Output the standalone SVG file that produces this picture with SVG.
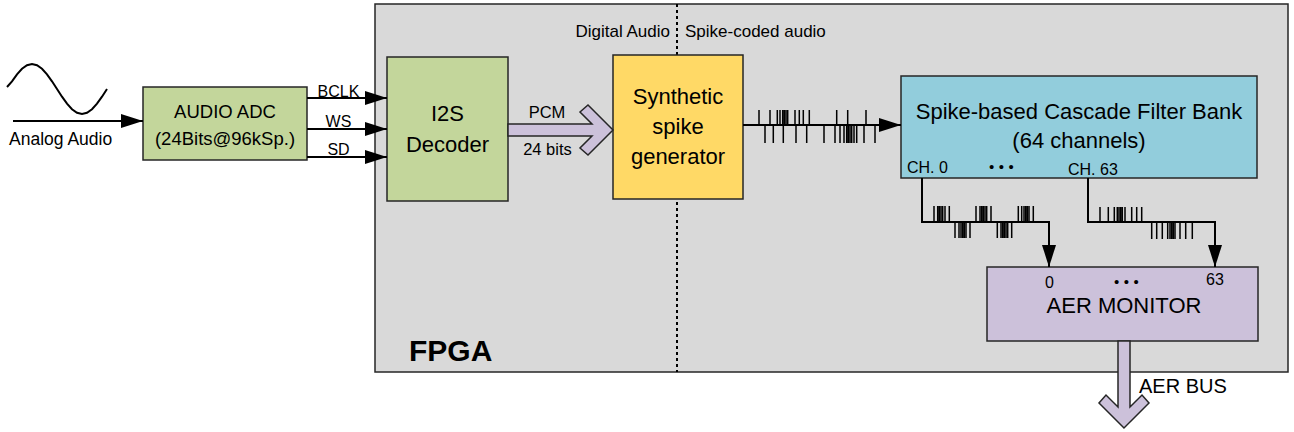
<svg xmlns="http://www.w3.org/2000/svg" width="1294" height="432" viewBox="0 0 1294 432">
  <style>
    text { font-family: "Liberation Sans", Arial, sans-serif; fill: #000; }
    .box { stroke: #262626; stroke-width: 1.5; }
    .wire { fill: none; stroke: #000; stroke-width: 2; }
    .tick { fill: none; stroke: #000; stroke-width: 1.5; }
    .bus { fill: #ccc1da; stroke: #262626; stroke-width: 1.5; stroke-linejoin: miter; }
    .mid { text-anchor: middle; }
  </style>
  <defs>
    <marker id="ah" markerWidth="22" markerHeight="14" refX="22" refY="7" orient="auto" markerUnits="userSpaceOnUse">
      <path d="M0,0 L22,7 L0,14 z" fill="#000"/>
    </marker>
  </defs>

  <rect width="1294" height="432" fill="#fff"/>

  <!-- FPGA enclosure -->
  <g id="fpga">
    <rect class="box" x="375" y="4" width="913" height="368" fill="#d9d9d9"/>
    <line x1="677" y1="4" x2="677" y2="372" stroke="#000" stroke-width="2" stroke-dasharray="3,3"/>
    <text x="670" y="37" font-size="17" text-anchor="end">Digital Audio</text>
    <text x="685" y="37" font-size="17">Spike-coded audio</text>
    <text x="409" y="361" font-size="30" font-weight="bold">FPGA</text>
  </g>

  <!-- analog input -->
  <g id="analog">
    <polyline class="wire" points="7,87 12,81.3 17,74.3 22,68.8 27,65.2 32,64 37,65.2 42,68.8 47,74.3 52,81.3 57,89 62,96.7 67,103.7 72,109.2 77,112.8 82,114 87,112.8 92,109.2 97,103.7 102,96.7 107,89"/>
    <text x="9" y="145" font-size="17.5">Analog Audio</text>
  </g>

  <g id="adc">
    <rect class="box" x="143" y="87" width="164" height="73" fill="#c3d69b"/>
    <text class="mid" x="225" y="118" font-size="18.5">AUDIO ADC</text>
    <text class="mid" x="225" y="145" font-size="18.5">(24Bits@96kSp.)</text>
  </g>

  <g id="i2s">
    <rect class="box" x="387" y="57" width="121" height="144" fill="#c3d69b"/>
    <text class="mid" x="447.5" y="121" font-size="22">I2S</text>
    <text class="mid" x="447.5" y="152" font-size="22">Decoder</text>
  </g>

  <g id="synth">
    <rect class="box" x="613" y="55" width="130" height="144" fill="#ffd966"/>
    <text class="mid" x="678" y="104" font-size="22">Synthetic</text>
    <text class="mid" x="678" y="134" font-size="22">spike</text>
    <text class="mid" x="678" y="164" font-size="22">generator</text>
  </g>

  <g id="cfb">
    <rect class="box" x="901" y="76" width="356" height="102" fill="#92cddc"/>
    <text class="mid" x="1079" y="119" font-size="22">Spike-based Cascade Filter Bank</text>
    <text class="mid" x="1079" y="148" font-size="22">(64 channels)</text>
    <text x="907" y="173" font-size="16">CH. 0</text>
    <text x="989" y="172" font-size="15" letter-spacing="4.5">•••</text>
    <text x="1068" y="175" font-size="16">CH. 63</text>
  </g>

  <g id="aer-monitor">
    <rect class="box" x="987" y="267" width="271" height="74" fill="#ccc1da"/>
    <text x="1045" y="288" font-size="16">0</text>
    <text x="1114" y="287" font-size="15" letter-spacing="4.5">•••</text>
    <text x="1206" y="285" font-size="16">63</text>
    <text class="mid" x="1124" y="313" font-size="22">AER MONITOR</text>
  </g>

  <!-- connectors -->
  <g id="connectors">
    <line class="wire" x1="13" y1="121" x2="143" y2="121" marker-end="url(#ah)"/>

    <line class="wire" x1="307" y1="98" x2="387" y2="98" marker-end="url(#ah)"/>
    <line class="wire" x1="307" y1="129" x2="387" y2="129" marker-end="url(#ah)"/>
    <line class="wire" x1="307" y1="157" x2="387" y2="157" marker-end="url(#ah)"/>
    <text class="mid" x="338.5" y="97" font-size="16">BCLK</text>
    <text class="mid" x="338.5" y="127" font-size="16">WS</text>
    <text class="mid" x="338.5" y="155" font-size="16">SD</text>

    <!-- PCM parallel bus -->
    <polygon class="bus" points="508,124 592,124 580,112 588,105 613,130 588,155 580,148 592,136 508,136"/>
    <text class="mid" x="547" y="118" font-size="16.5">PCM</text>
    <text class="mid" x="547.5" y="155" font-size="16.5">24 bits</text>

    <!-- spike stream into the filter bank -->
    <line class="wire" x1="743" y1="125" x2="901" y2="125" marker-end="url(#ah)"/>
    <path class="tick" d="M759,125V110 M770,125V110 M777.3,125V110 M780,125V110 M782.7,125V110 M784.3,125V110 M786,125V110 M787.7,125V110 M795,125V110 M799.3,125V110 M803.3,125V110 M809.3,125V110 M836.7,125V110 M847.7,125V110 M866,125V110"/>
    <path class="tick" d="M765,125V143 M773.3,125V143 M783.3,125V143 M796,125V143 M806.7,125V143 M824,125V143 M835,125V143 M840,125V143 M844,125V143 M846.7,125V143 M848.3,125V143 M850,125V143 M851.7,125V143 M854,125V143 M856.7,125V143 M864,125V143 M875,125V143"/>

    <!-- channel 0 output -->
    <polyline class="wire" points="922,178 922,222 1049,222 1049,267" marker-end="url(#ah)"/>
    <path class="tick" d="M934,222V206 M937.7,222V206 M939.3,222V206 M941,222V206 M942.7,222V206 M945,222V206 M949.3,222V206 M976,222V206 M980,222V206 M981.7,222V206 M983.3,222V206 M985,222V206 M986.7,222V206 M991,222V206 M1018.3,222V206 M1021.7,222V206 M1024,222V206 M1025.7,222V206 M1027.3,222V206 M1029,222V206 M1033.3,222V206"/>
    <path class="tick" d="M955,222V238 M959,222V238 M961,222V238 M962.7,222V238 M964.3,222V238 M966,222V238 M970,222V238 M997.3,222V238 M1001,222V238 M1002.7,222V238 M1004.3,222V238 M1006,222V238 M1007.7,222V238 M1011.7,222V238"/>

    <!-- channel 63 output -->
    <polyline class="wire" points="1088,178 1088,222 1215,222 1215,267" marker-end="url(#ah)"/>
    <path class="tick" d="M1100,222V207 M1108.3,222V207 M1114.3,222V207 M1117.3,222V207 M1119,222V207 M1120.7,222V207 M1122.3,222V207 M1125,222V207 M1131.7,222V207 M1136.7,222V207 M1141.7,222V207"/>
    <path class="tick" d="M1151.7,222V239 M1156.7,222V239 M1162.3,222V239 M1167.7,222V239 M1170,222V239 M1171.7,222V239 M1173.3,222V239 M1175,222V239 M1180,222V239 M1185.7,222V239 M1192.3,222V239"/>

    <!-- AER output bus -->
    <polygon class="bus" points="1118,341 1118,407 1106,395 1099,403 1124,428 1149,403 1142,395 1130,407 1130,341"/>
    <text x="1139" y="393" font-size="20">AER BUS</text>
  </g>
</svg>
